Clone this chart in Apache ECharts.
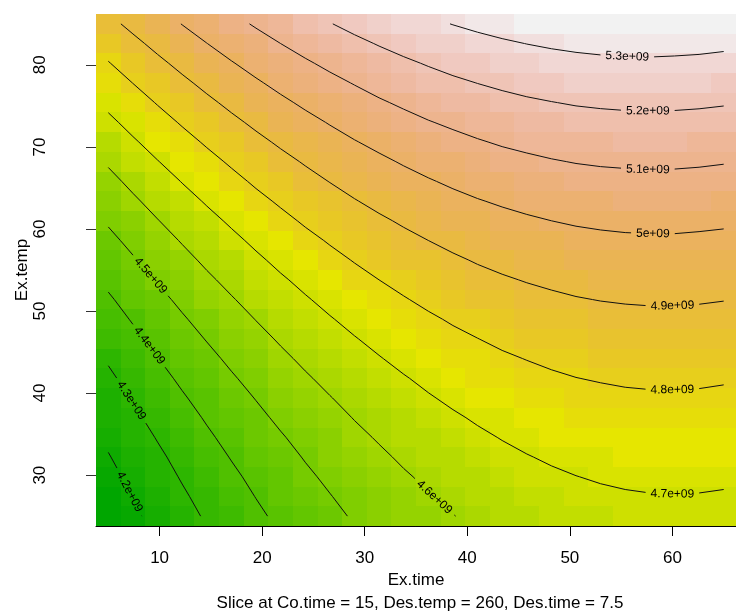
<!DOCTYPE html>
<html>
<head>
<meta charset="utf-8">
<script src="https://cdn.jsdelivr.net/npm/echarts@6.0.0/dist/echarts.min.js"></script>
<style>
  html, body { margin: 0; padding: 0; background: #ffffff; }
  #chart { width: 736px; height: 611px; }
</style>
</head>
<body>
<div id="chart"></div>
<script>
// ---------------- data ----------------
// grid of Ex.time (x) values, cell centres
const exTime = [5, 7.4, 9.8, 12.2, 14.6, 17, 19.4, 21.8, 24.2, 26.6, 29, 31.4, 33.8,
                36.2, 38.6, 41, 43.4, 45.8, 48.2, 50.6, 53, 55.4, 57.8, 60.2, 62.6, 65];
// grid of Ex.temp (y) values, cell centres
const exTemp = [25, 27.4, 29.8, 32.2, 34.6, 37, 39.4, 41.8, 44.2, 46.6, 49, 51.4, 53.8,
                56.2, 58.6, 61, 63.4, 65.8, 68.2, 70.6, 73, 75.4, 77.8, 80.2, 82.6, 85];
// predicted response, in units of 1e6; one row per Ex.temp value (bottom to top)
const response = [
  [4138,4184,4228,4270,4310,4348,4384,4418,4450,4480,4508,4533,4557,4579,4598,4616,4631,4645,4656,4666,4673,4678,4681,4683,4682,4679],
  [4156,4202,4246,4288,4328,4366,4402,4436,4467,4497,4525,4550,4574,4596,4615,4632,4648,4661,4673,4682,4689,4694,4697,4698,4697,4694],
  [4175,4221,4265,4307,4347,4384,4420,4454,4486,4515,4543,4568,4592,4613,4633,4650,4665,4678,4690,4699,4706,4711,4714,4715,4714,4711],
  [4195,4241,4284,4326,4366,4404,4439,4473,4505,4534,4562,4587,4611,4632,4651,4668,4684,4697,4708,4717,4724,4729,4732,4733,4731,4728],
  [4216,4261,4305,4347,4387,4424,4460,4493,4525,4554,4582,4607,4630,4651,4671,4688,4703,4716,4727,4736,4743,4748,4750,4751,4750,4747],
  [4238,4283,4327,4369,4408,4446,4481,4515,4546,4575,4603,4628,4651,4672,4691,4708,4723,4736,4747,4756,4763,4767,4770,4771,4769,4766],
  [4260,4306,4350,4391,4431,4468,4503,4537,4568,4597,4624,4649,4673,4694,4713,4729,4744,4757,4768,4777,4783,4788,4791,4791,4790,4786],
  [4284,4330,4373,4415,4454,4491,4527,4560,4591,4620,4647,4672,4695,4716,4735,4752,4767,4779,4790,4799,4805,4810,4812,4813,4811,4807],
  [4309,4355,4398,4439,4478,4516,4551,4584,4615,4644,4671,4696,4719,4740,4758,4775,4790,4802,4813,4821,4828,4832,4835,4835,4833,4830],
  [4335,4380,4423,4465,4504,4541,4576,4609,4640,4669,4696,4720,4743,4764,4783,4799,4814,4826,4837,4845,4852,4856,4858,4858,4857,4853],
  [4362,4407,4450,4491,4530,4567,4602,4635,4666,4695,4721,4746,4769,4789,4808,4824,4839,4851,4862,4870,4876,4880,4883,4883,4881,4877],
  [4389,4434,4477,4518,4557,4594,4629,4662,4693,4721,4748,4773,4795,4816,4834,4850,4865,4877,4887,4896,4902,4906,4908,4908,4906,4902],
  [4418,4463,4506,4547,4586,4622,4657,4690,4720,4749,4776,4800,4822,4843,4861,4878,4892,4904,4914,4922,4928,4932,4934,4934,4932,4928],
  [4448,4492,4535,4576,4615,4651,4686,4719,4749,4778,4804,4829,4851,4871,4889,4906,4920,4932,4942,4950,4956,4960,4962,4962,4959,4955],
  [4478,4523,4566,4606,4645,4681,4716,4748,4779,4807,4834,4858,4880,4900,4919,4935,4949,4961,4971,4979,4984,4988,4990,4990,4987,4983],
  [4510,4554,4597,4637,4676,4712,4747,4779,4810,4838,4864,4888,4910,4931,4949,4965,4979,4990,5000,5008,5014,5018,5019,5019,5016,5012],
  [4542,4587,4629,4670,4708,4744,4779,4811,4841,4869,4896,4920,4942,4962,4980,4996,5009,5021,5031,5039,5044,5048,5049,5049,5046,5042],
  [4576,4620,4662,4703,4741,4777,4812,4844,4874,4902,4928,4952,4974,4994,5012,5027,5041,5053,5062,5070,5076,5079,5081,5080,5077,5073],
  [4610,4654,4697,4737,4775,4811,4845,4877,4907,4935,4961,4985,5007,5027,5045,5060,5074,5085,5095,5103,5108,5111,5113,5112,5109,5104],
  [4645,4690,4732,4772,4810,4846,4880,4912,4942,4970,4996,5019,5041,5061,5078,5094,5108,5119,5129,5136,5141,5145,5146,5145,5142,5137],
  [4682,4726,4768,4808,4846,4882,4916,4948,4977,5005,5031,5055,5076,5096,5113,5129,5142,5154,5163,5170,5175,5179,5180,5179,5176,5171],
  [4719,4763,4805,4845,4883,4919,4952,4984,5014,5042,5067,5091,5112,5132,5149,5165,5178,5189,5198,5206,5211,5214,5215,5214,5211,5206],
  [4757,4801,4843,4883,4921,4956,4990,5022,5051,5079,5104,5128,5149,5169,5186,5201,5214,5226,5235,5242,5247,5250,5251,5250,5247,5241],
  [4796,4840,4882,4922,4959,4995,5029,5060,5090,5117,5143,5166,5187,5206,5224,5239,5252,5263,5272,5279,5284,5287,5288,5286,5283,5278],
  [4836,4880,4922,4962,4999,5035,5068,5100,5129,5156,5182,5205,5226,5245,5262,5277,5290,5301,5310,5317,5322,5325,5326,5324,5321,5315],
  [4878,4921,4963,5002,5040,5075,5109,5140,5169,5197,5222,5245,5266,5285,5302,5317,5330,5341,5350,5356,5361,5364,5364,5363,5360,5354]
];
// contour levels (units of 1e6) and their printed labels
const contourLevels = [4200, 4300, 4400, 4500, 4600, 4700, 4800, 4900, 5000, 5100, 5200, 5300];
const contourLabels = ['4.2e+09', '4.3e+09', '4.4e+09', '4.5e+09', '4.6e+09', '4.7e+09',
                       '4.8e+09', '4.9e+09', '5e+09', '5.1e+09', '5.2e+09', '5.3e+09'];
// axis ticks
const xTicks = [10, 20, 30, 40, 50, 60];
const yTicks = [30, 40, 50, 60, 70, 80];
const xName = 'Ex.time';
const yName = 'Ex.temp';
const subTitle = 'Slice at Co.time = 15, Des.temp = 260, Des.time = 7.5';

// ---------------- layout (not data) ----------------
// where along each contour its label sits (Ex.time, Ex.temp)
const labelAnchors = [[6.8, 27.8], [7.0, 38.9], [8.9, 45.7], [8.9, 54.1], [36.7, 27.2], [60.0, 27.8],
                      [60.0, 40.5], [60.0, 50.7], [58.1, 59.5], [57.6, 67.2], [57.6, 74.3], [55.6, 81.0]];
const FONT = '"Liberation Sans", Arial, Helvetica, sans-serif';
const LABEL_FONT_SIZE = 12;
const GRID = { left: 96, top: 14, width: 648, height: 512 };

// ---------------- colours: R terrain.colors(50) ----------------
function hsv(h, s, v) {
  let i = Math.floor(h * 6 + 1e-9); const f = h * 6 - i;
  const p = v * (1 - s), q = v * (1 - f * s), t = v * (1 - (1 - f) * s);
  let r, g, b;
  switch (((i % 6) + 6) % 6) {
    case 0: r = v; g = t; b = p; break;
    case 1: r = q; g = v; b = p; break;
    case 2: r = p; g = v; b = t; break;
    case 3: r = p; g = q; b = v; break;
    case 4: r = t; g = p; b = v; break;
    default: r = v; g = p; b = q;
  }
  return 'rgb(' + Math.round(r * 255) + ',' + Math.round(g * 255) + ',' + Math.round(b * 255) + ')';
}
function seq(a, b, m) { const out = []; for (let i = 0; i < m; i++) out.push(m === 1 ? a : a + (b - a) * i / (m - 1)); return out; }
function terrainColors(n) {
  const k = Math.floor(n / 2), out = [];
  const h1 = seq(4 / 12, 2 / 12, k), v1 = seq(0.65, 0.9, k);
  for (let i = 0; i < k; i++) out.push(hsv(h1[i], 1, v1[i]));
  const m = n - k + 1;
  const h2 = seq(2 / 12, 0, m), s2 = seq(1, 0, m), v2 = seq(0.9, 0.95, m);
  for (let i = 1; i < m; i++) out.push(hsv(h2[i], s2[i], v2[i]));
  return out;
}
const palette = terrainColors(50);

// ---------------- derived tables ----------------
const cellData = [];
let zMin = Infinity, zMax = -Infinity;
for (let j = 0; j < exTemp.length; j++) {
  for (let i = 0; i < exTime.length; i++) {
    const z = response[j][i];
    cellData.push([exTime[i], exTemp[j], z]);
    if (z < zMin) zMin = z;
    if (z > zMax) zMax = z;
  }
}
const pieces = palette.map((c, k) => {
  const lo = zMin + (zMax - zMin) * k / palette.length;
  const hi = zMin + (zMax - zMin) * (k + 1) / palette.length;
  return k === 0 ? { gte: lo - 1, lte: hi, color: c } : { gt: lo, lte: hi + (k === palette.length - 1 ? 1 : 0), color: c };
});
const halfX = (exTime[1] - exTime[0]) / 2;
const halfY = (exTemp[1] - exTemp[0]) / 2;

// marching squares on the grid, chained into polylines
function traceContour(xs, ys, Z, L) {
  const segs = [];
  function cross(k, x1, y1, v1, x2, y2, v2) {
    const t = (L - v1) / (v2 - v1);
    return { k: k, x: x1 + t * (x2 - x1), y: y1 + t * (y2 - y1) };
  }
  for (let j = 0; j < ys.length - 1; j++) {
    for (let i = 0; i < xs.length - 1; i++) {
      const a = Z[j][i], b = Z[j][i + 1], c = Z[j + 1][i + 1], d = Z[j + 1][i];
      const pts = [];
      if ((a < L) !== (b < L)) pts.push(cross('h' + i + '_' + j, xs[i], ys[j], a, xs[i + 1], ys[j], b));
      if ((b < L) !== (c < L)) pts.push(cross('v' + (i + 1) + '_' + j, xs[i + 1], ys[j], b, xs[i + 1], ys[j + 1], c));
      if ((d < L) !== (c < L)) pts.push(cross('h' + i + '_' + (j + 1), xs[i], ys[j + 1], d, xs[i + 1], ys[j + 1], c));
      if ((a < L) !== (d < L)) pts.push(cross('v' + i + '_' + j, xs[i], ys[j], a, xs[i], ys[j + 1], d));
      if (pts.length === 2) segs.push([pts[0], pts[1]]);
      else if (pts.length === 4) { segs.push([pts[0], pts[1]]); segs.push([pts[2], pts[3]]); }
    }
  }
  const byKey = {};
  segs.forEach((s, idx) => s.forEach(p => { (byKey[p.k] = byKey[p.k] || []).push(idx); }));
  const used = segs.map(() => false);
  function walk(startIdx, startKey) {
    const line = [];
    let idx = startIdx, key = startKey;
    const s0 = segs[idx];
    const p0 = s0[0].k === key ? s0[0] : s0[1];
    line.push([p0.x, p0.y]);
    while (idx !== -1 && !used[idx]) {
      used[idx] = true;
      const s = segs[idx];
      const q = s[0].k === key ? s[1] : s[0];
      line.push([q.x, q.y]);
      key = q.k;
      const nexts = (byKey[key] || []).filter(n => !used[n]);
      idx = nexts.length ? nexts[0] : -1;
    }
    return line;
  }
  const lines = [];
  Object.keys(byKey).forEach(k => {
    if (byKey[k].length === 1 && !used[byKey[k][0]]) lines.push(walk(byKey[k][0], k));
  });
  segs.forEach((s, idx) => { if (!used[idx]) lines.push(walk(idx, s[0].k)); });
  return lines;
}
const contourPaths = contourLevels.map(L => traceContour(exTime, exTemp, response, L));

const measureCtx = document.createElement('canvas').getContext('2d');
measureCtx.font = LABEL_FONT_SIZE + 'px ' + FONT;

function renderContour(params, api) {
  const k = params.dataIndex;
  const pix = contourPaths[k].map(l => l.map(p => api.coord(p)));
  const anchor = api.coord(labelAnchors[k]);
  let best = null;
  const cums = pix.map((pl, li) => {
    const cum = [0];
    for (let m = 0; m < pl.length - 1; m++) {
      const x1 = pl[m][0], y1 = pl[m][1], x2 = pl[m + 1][0], y2 = pl[m + 1][1];
      const dx = x2 - x1, dy = y2 - y1, len = Math.hypot(dx, dy);
      let t = len > 0 ? ((anchor[0] - x1) * dx + (anchor[1] - y1) * dy) / (len * len) : 0;
      t = Math.max(0, Math.min(1, t));
      const d = Math.hypot(anchor[0] - (x1 + t * dx), anchor[1] - (y1 + t * dy));
      if (!best || d < best.d) best = { d: d, li: li, s: cum[m] + t * len };
      cum.push(cum[m] + len);
    }
    return cum;
  });
  function pointAt(pl, cum, s) {
    if (s <= 0) return pl[0].slice();
    for (let m = 0; m < pl.length - 1; m++) {
      if (s <= cum[m + 1]) {
        const seg = cum[m + 1] - cum[m];
        const t = seg > 0 ? (s - cum[m]) / seg : 0;
        return [pl[m][0] + t * (pl[m + 1][0] - pl[m][0]), pl[m][1] + t * (pl[m + 1][1] - pl[m][1])];
      }
    }
    return pl[pl.length - 1].slice();
  }
  const children = [];
  const lineStyle = { stroke: '#111', fill: null, lineWidth: 1 };
  pix.forEach((pl, li) => {
    if (!best || li !== best.li) {
      children.push({ type: 'polyline', shape: { points: pl }, style: lineStyle });
      return;
    }
    const cum = cums[li], total = cum[cum.length - 1];
    const tw = measureCtx.measureText(contourLabels[k]).width;
    const hw = tw / 2 + 5;
    const sA = best.s - hw, sB = best.s + hw;
    const partA = [], partB = [];
    for (let m = 0; m < pl.length; m++) {
      if (cum[m] < sA) partA.push(pl[m]);
    }
    if (sA > 0) partA.push(pointAt(pl, cum, sA));
    if (sB < total) partB.push(pointAt(pl, cum, sB));
    for (let m = 0; m < pl.length; m++) {
      if (cum[m] > sB) partB.push(pl[m]);
    }
    if (partA.length > 1) children.push({ type: 'polyline', shape: { points: partA }, style: lineStyle });
    if (partB.length > 1) children.push({ type: 'polyline', shape: { points: partB }, style: lineStyle });
    let pL = pointAt(pl, cum, Math.max(0, sA)), pR = pointAt(pl, cum, Math.min(total, sB));
    if (pR[0] < pL[0]) { const tmp = pL; pL = pR; pR = tmp; }
    const rot = Math.atan2(-(pR[1] - pL[1]), pR[0] - pL[0]);
    const c = pointAt(pl, cum, best.s);
    children.push({
      type: 'text', x: c[0], y: c[1], rotation: rot,
      style: { text: contourLabels[k], x: 0, y: 0, align: 'center', verticalAlign: 'middle',
               fontSize: LABEL_FONT_SIZE, fontFamily: FONT, fill: '#000' }
    });
  });
  return { type: 'group', children: children };
}

function renderCell(params, api) {
  const x = api.value(0), y = api.value(1);
  const p0 = api.coord([x - halfX, y + halfY]);
  const p1 = api.coord([x + halfX, y - halfY]);
  const x0 = Math.round(p0[0]), y0 = Math.round(p0[1]);
  const x1 = Math.round(p1[0]), y1 = Math.round(p1[1]);
  return { type: 'rect', shape: { x: x0, y: y0, width: x1 - x0, height: y1 - y0 },
           style: { fill: api.visual('color') } };
}

const chart = echarts.init(document.getElementById('chart'), null, { renderer: 'canvas' });
chart.setOption({
  animation: false,
  backgroundColor: '#ffffff',
  textStyle: { fontFamily: FONT },
  grid: GRID,
  xAxis: {
    type: 'value',
    min: exTime[0] - halfX, max: exTime[exTime.length - 1] + halfX,
    axisLine: { show: true, onZero: false, lineStyle: { color: '#000', width: 1 } },
    axisTick: { show: true, length: 10, customValues: xTicks, lineStyle: { color: '#000' } },
    axisLabel: { customValues: xTicks, fontSize: 17, color: '#000', margin: 24, fontFamily: FONT },
    splitLine: { show: false },
    name: xName, nameLocation: 'middle', nameGap: 46, nameMoveOverlap: false,
    nameTextStyle: { fontSize: 17, color: '#000', fontFamily: FONT }
  },
  yAxis: {
    type: 'value',
    min: exTemp[0] - halfY, max: exTemp[exTemp.length - 1] + halfY,
    axisLine: { show: false },
    axisTick: { show: true, length: 10, customValues: yTicks, lineStyle: { color: '#333' } },
    axisLabel: { customValues: yTicks, rotate: 90, fontSize: 17, color: '#000', margin: 47, fontFamily: FONT },
    splitLine: { show: false },
    name: yName, nameLocation: 'middle', nameGap: 65, nameRotate: 90, nameMoveOverlap: false,
    nameTextStyle: { fontSize: 17, color: '#000', fontFamily: FONT }
  },
  visualMap: {
    type: 'piecewise', show: false, dimension: 2, seriesIndex: 0, pieces: pieces
  },
  graphic: [{
    type: 'text', x: GRID.left + GRID.width / 2, y: 603,
    style: { text: subTitle, align: 'center', verticalAlign: 'middle', fontSize: 17, fontFamily: FONT, fill: '#000' }
  }],
  series: [
    { type: 'custom', name: 'response', renderItem: renderCell, data: cellData,
      encode: { x: 0, y: 1 }, silent: true, clip: true },
    { type: 'custom', name: 'contours', renderItem: renderContour,
      data: contourLevels.map((l, k) => [35, 55, k]), encode: { x: 0, y: 1 }, silent: true, z: 5 }
  ]
});
</script>
</body>
</html>
